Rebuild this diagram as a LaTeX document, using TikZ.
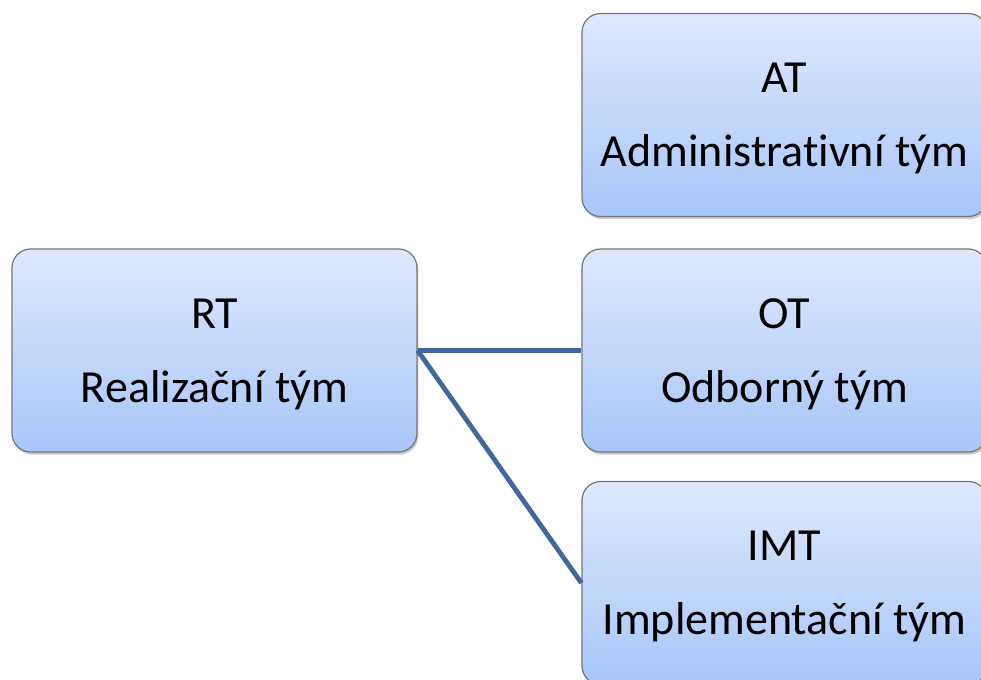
\documentclass[tikz,border=0pt]{standalone}
\usepackage{fontspec}
\setmainfont{Carlito}[Ligatures=NoCommon]
\usetikzlibrary{shadows}

\definecolor{boxtop}{RGB}{223,233,252}
\definecolor{boxbottom}{RGB}{167,198,250}
\definecolor{boxline}{RGB}{118,118,118}
\definecolor{linkblue}{RGB}{65,104,156}

\tikzset{
	teambox/.style={draw=boxline, line width=0.9pt, rounded corners=14pt,
		top color=boxtop, bottom color=boxbottom,
		minimum width=303.75pt, minimum height=152.25pt,
		align=center, inner sep=0pt, text depth=0pt,
		font=\fontsize{34.5pt}{55.5pt}\selectfont,
		drop shadow={shadow xshift=1pt, shadow yshift=-2pt, opacity=0.35, fill=black!60}},
	teamlink/.style={draw=linkblue, line width=3.6pt}}
\tikzset{every picture/.style={line width=0.75pt}}

\begin{document}
\begin{tikzpicture}[x=0.75pt,y=0.75pt,yscale=-1,xscale=1]
	\useasboundingbox (0,0) rectangle (981,680);
	
	%Shape: Rounded Rect [id:rt] 
	\node [teambox] (rt) at (214.5,350.5) {RT\\Realizační tým};
	%Shape: Rounded Rect [id:at] 
	\node [teambox] (at) at (784.5,115) {AT\\Administrativní tým};
	%Shape: Rounded Rect [id:ot] 
	\node [teambox] (ot) at (784.5,350.5) {OT\\Odborný tým};
	%Shape: Rounded Rect [id:imt] 
	\node [teambox] (imt) at (784.5,583) {IMT\\Implementační tým};
	
	%Straight Lines [id:rt-ot] 
	\draw [teamlink] (rt.east) -- (ot.west) ;
	%Straight Lines [id:rt-imt] 
	\draw [teamlink] (rt.east) -- (imt.west) ;
	
\end{tikzpicture}
\end{document}
